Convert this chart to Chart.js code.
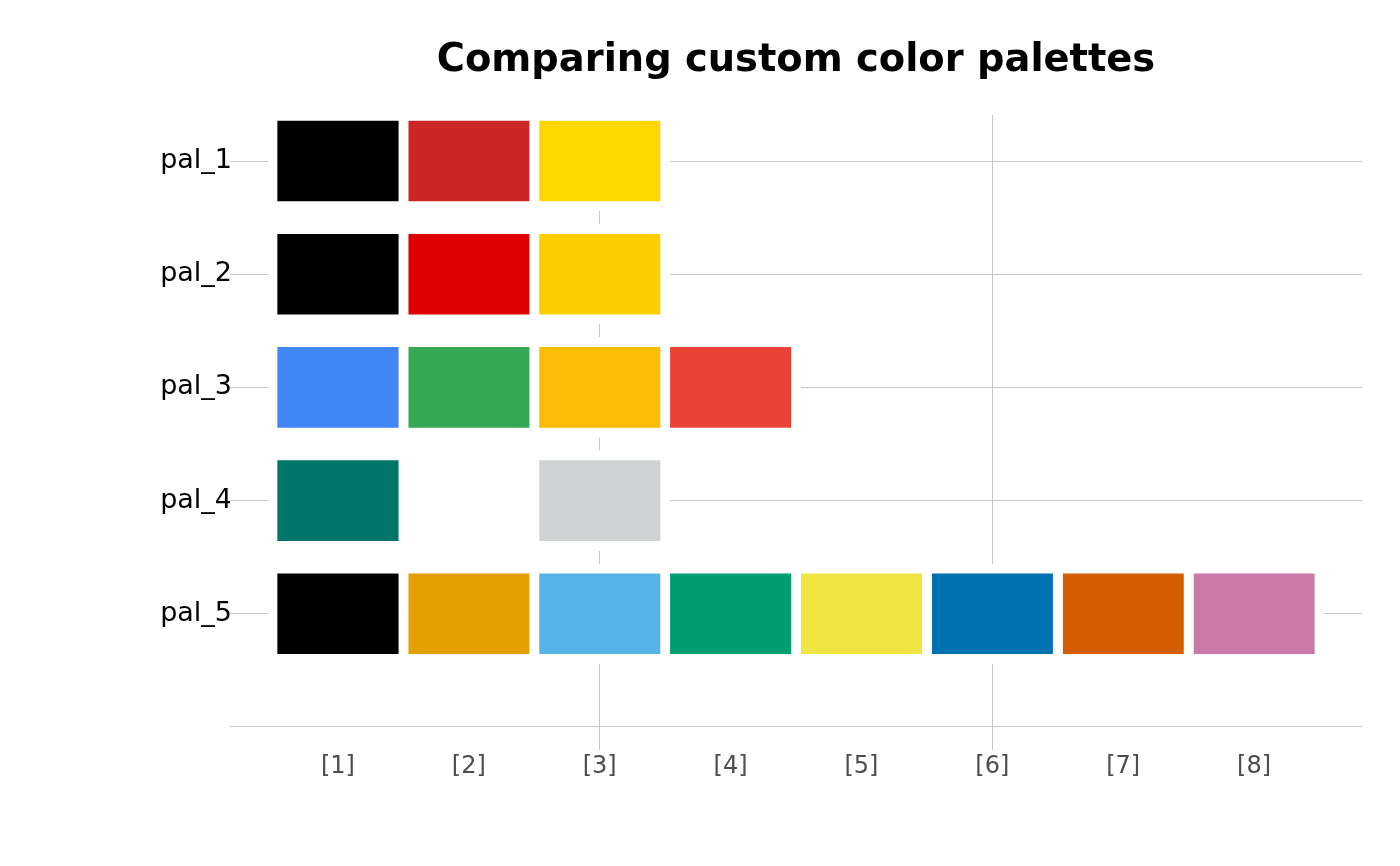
<!DOCTYPE html>
<html>
<head>
<meta charset="utf-8">
<title>Comparing custom color palettes</title>
<script src="https://cdn.jsdelivr.net/npm/chart.js@4/dist/chart.umd.min.js"></script>
<style>
  html, body { margin: 0; padding: 0; background: #ffffff; }
  #wrap { width: 1400px; height: 866px; }
</style>
</head>
<body>
<div id="wrap"><canvas id="paletteChart"></canvas></div>
<script>
// palette names (rows) and their colours, position labels (columns)
const paletteNames = ["pal_1", "pal_2", "pal_3", "pal_4", "pal_5"];
const pal_1 = ["#000000", "#CD2626", "#FFD700"];
const pal_2 = ["#000000", "#DD0000", "#FFCE00"];
const pal_3 = ["#4285F4", "#34A853", "#FBBC05", "#EA4335"];
const pal_4 = ["#00756A", "#FFFFFF", "#D0D3D4"];
const pal_5 = ["#000000", "#E69F00", "#56B4E9", "#009E73", "#F0E442", "#0072B2", "#D55E00", "#CC79A7"];
const positionLabels = ["[1]", "[2]", "[3]", "[4]", "[5]", "[6]", "[7]", "[8]"];
const gridAt = [3, 6];

const palettes = [pal_1, pal_2, pal_3, pal_4, pal_5];
const tileOverlap = 0.037; // white border overlaps the neighbouring cell a bit
const gridGray = "#c6c6c6";

// one dataset per position, one bar per palette that has that position
const datasets = positionLabels.map((label, pos) => {
  const rows = palettes
    .map((pal, r) => ({ pal, r }))
    .filter(d => d.pal.length > pos);
  return {
    label: label,
    data: rows.map(d => ({ x: [pos + 1 - 0.5 - tileOverlap, pos + 1 + 0.5 + tileOverlap], y: d.r + 1 })),
    backgroundColor: rows.map(d => d.pal[pos]),
    borderColor: "#ffffff",
    borderWidth: 10,
    borderSkipped: false,
    barThickness: 100,
    grouped: false
  };
});

// centre the title over the plot panel instead of the whole canvas
const titleOverPanel = {
  id: "titleOverPanel",
  afterLayout(chart) {
    const t = chart.titleBlock;
    if (t) {
      t.left = chart.chartArea.left;
      t.right = chart.chartArea.right;
      t.width = t.right - t.left;
    }
  }
};

new Chart(document.getElementById("paletteChart"), {
  type: "bar",
  data: { datasets },
  plugins: [titleOverPanel],
  options: {
    indexAxis: "y",
    responsive: true,
    maintainAspectRatio: false,
    animation: false,
    layout: { padding: { left: 0, right: 38, top: 0, bottom: 0 } },
    plugins: {
      legend: { display: false },
      tooltip: { enabled: false },
      title: {
        display: true,
        text: "Comparing custom color palettes",
        color: "#000000",
        font: { family: "DejaVu Sans", size: 38.4, weight: "bold" },
        padding: { top: 38, bottom: 30.9 }
      }
    },
    scales: {
      x: {
        type: "linear",
        min: 0.175,
        max: 8.825,
        afterBuildTicks: scale => {
          scale.ticks = positionLabels.map((l, i) => ({ value: i + 1 }));
        },
        afterFit: scale => { scale.height = 116; },
        border: { display: false },
        grid: {
          drawTicks: false,
          color: ctx => gridAt.includes(ctx.tick && ctx.tick.value) ? gridGray : "rgba(0,0,0,0)"
        },
        ticks: {
          autoSkip: false,
          maxRotation: 0,
          padding: 2,
          color: "#4d4d4d",
          font: { family: "DejaVu Sans", size: 24 },
          callback: v => positionLabels[v - 1] || ""
        }
      },
      y: {
        type: "linear",
        reverse: true,
        offset: false,
        min: 0.593,
        max: 6.204,
        afterBuildTicks: scale => {
          scale.ticks = [1, 2, 3, 4, 5, 6].map(v => ({ value: v }));
        },
        afterFit: scale => { scale.width = 230; },
        border: { display: false },
        grid: { drawTicks: false, offset: false, color: gridGray },
        ticks: {
          padding: -2,
          color: "#000000",
          font: { family: "DejaVu Sans", size: 27 },
          callback: v => paletteNames[v - 1] || ""
        }
      }
    }
  }
});
</script>
</body>
</html>
